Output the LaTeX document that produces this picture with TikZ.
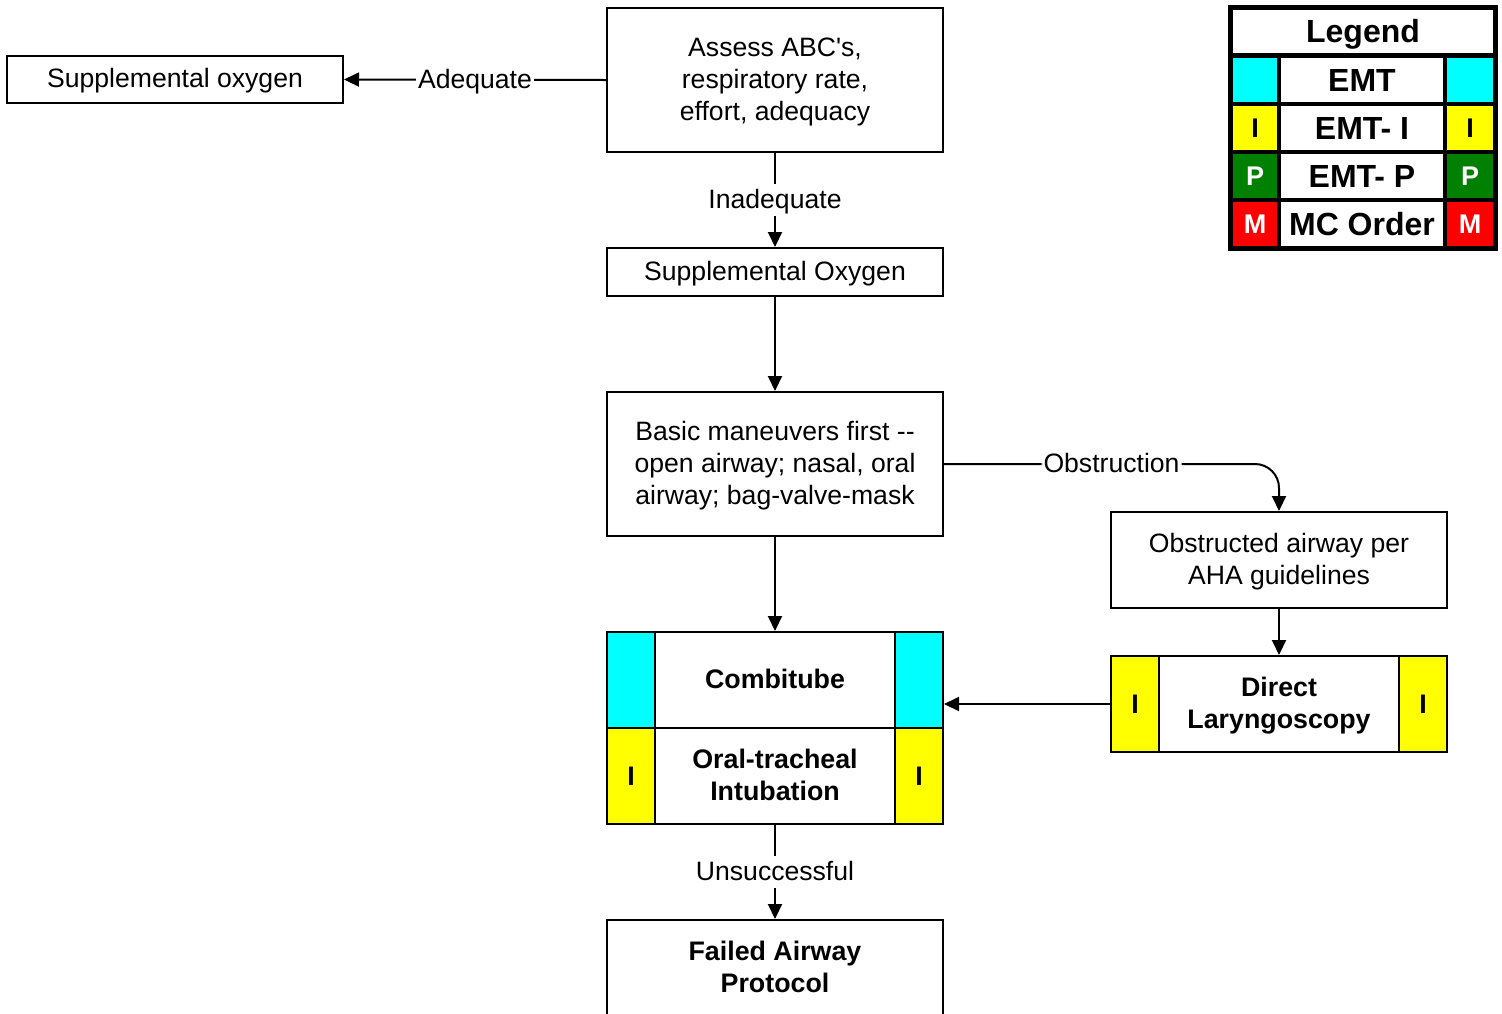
\documentclass[tikz,border=0pt]{standalone}
\usepackage{fontspec}
\setmainfont{Liberation Sans}
\newfontfamily\rawf{Liberation Sans}
\usetikzlibrary{arrows.meta}
\definecolor{cyanc}{RGB}{0,255,255}
\definecolor{yelc}{RGB}{255,255,0}
\definecolor{grnc}{RGB}{0,128,0}
\definecolor{redc}{RGB}{255,0,0}
\newcommand\myreg{\rawf\fontsize{26.6}{32}\selectfont}
\newcommand\mybold{\rawf\fontsize{26.8}{32}\selectfont\bfseries}
\newcommand\myleg{\rawf\fontsize{32}{38}\selectfont\bfseries}
\newcommand\myletter{\rawf\fontsize{27}{32}\selectfont\bfseries}
\newcommand\topst{\rule{0pt}{22.7pt}}
\newcommand\botst{\rule[-6pt]{0pt}{6pt}}
\begin{document}
\begin{tikzpicture}[x=1pt,y=-1pt,
  strutted/.style={execute at begin node=\topst, execute at end node=\botst},
  box/.style={draw, line width=2pt, inner sep=0pt, align=center, font=\myreg, minimum width=336pt},
  bbox/.style={box, font=\mybold},
  midcell/.style={draw, line width=2pt, inner sep=0pt, align=center, font=\mybold, minimum width=240pt, minimum height=96pt},
  sidecell/.style={draw, line width=2pt, inner sep=0pt, align=center, font=\mybold, minimum width=48pt, minimum height=96pt},
  arr/.style={line width=2pt, -{Triangle[length=15pt,width=14pt]}},
  lbl/.style={fill=white, font=\myreg, inner sep=2pt, strutted},
  legcell/.style={inner sep=0pt, minimum height=44pt, align=center},
  legmid/.style={legcell, fill=white, minimum width=162pt, font=\myleg},
  legside/.style={legcell, minimum width=44pt, font=\myletter}
]
\clip (0,0) rectangle (1502,1013);
\fill[white] (0,0) rectangle (1502,1013);

% flowchart boxes
\node[box, strutted, minimum height=47pt] (supL) at (175,79.5) {Supplemental oxygen};
\node[box, minimum height=144pt] (assess) at (775,80) {\topst Assess ABC's,\\respiratory rate,\\effort, adequacy\botst};
\node[box, strutted, minimum height=48pt] (supO) at (775,272) {Supplemental Oxygen};
\node[box, minimum height=144pt] (basic) at (775,464) {\topst Basic maneuvers first -\kern0pt-\\open airway; nasal, oral\\airway; bag-valve-mask\botst};
\node[box, minimum height=96pt] (obs) at (1279,560) {\topst Obstructed airway per\\AHA guidelines\botst};

% direct laryngoscopy
\node[midcell] (dl) at (1279,704) {\topst Direct\\Laryngoscopy\botst};
\node[sidecell, fill=yelc] (dlL) at (1135,704) {I};
\node[sidecell, fill=yelc] (dlR) at (1423,704) {I};

% combitube / intubation
\node[midcell, strutted] (comb) at (775,680) {Combitube};
\node[sidecell, fill=cyanc] (combL) at (631,680) {};
\node[sidecell, fill=cyanc] (combR) at (919,680) {};
\node[midcell] (intub) at (775,776) {\topst Oral-tracheal\\Intubation\botst};
\node[sidecell, fill=yelc] (intubL) at (631,776) {I};
\node[sidecell, fill=yelc] (intubR) at (919,776) {I};

\node[bbox, minimum height=96pt] (failed) at (775,968) {\topst Failed Airway\\Protocol\botst};

% connectors
\draw[arr] (assess.west) -- node[lbl]{Adequate} (supL.east);
\draw[arr] (assess.south) -- node[lbl]{Inadequate} (supO.north);
\draw[arr] (supO.south) -- (basic.north);
\draw[arr, rounded corners=24pt] (basic.east) -- node[lbl, pos=0.5]{Obstruction} (basic.east -| obs.north) -- (obs.north);
\draw[arr] (obs.south) -- (dl.north);
\draw[arr] (dlL.west) -- (dlL.west -| combR.east);
\draw[arr] (basic.south) -- (comb.north);
\draw[arr] (intub.south) -- node[lbl]{Unsuccessful} (failed.north);

% legend
\node[fill=black, inner sep=0pt, minimum width=270pt, minimum height=246pt] (legbg) at (1363,128) {};
\node[legcell, fill=white, minimum width=260pt, minimum height=43pt, font=\myleg, text height=23pt, text depth=0pt] (legtitle) at (1363,31) {Legend};

\node[legmid] (l1) at (1362,80) {EMT};
\node[legside, fill=cyanc] (l1a) at (1255,80) {};
\node[legside, fill=cyanc, minimum width=46pt] (l1b) at (1470,80) {};

\node[legmid] (l2) at (1362,128) {EMT- I};
\node[legside, fill=yelc] (l2a) at (1255,128) {I};
\node[legside, fill=yelc, minimum width=46pt] (l2b) at (1470,128) {I};

\node[legmid] (l3) at (1362,176) {EMT- P};
\node[legside, fill=grnc, text=white] (l3a) at (1255,176) {P};
\node[legside, fill=grnc, text=white, minimum width=46pt] (l3b) at (1470,176) {P};

\node[legmid] (l4) at (1362,224) {MC Order};
\node[legside, fill=redc, text=white] (l4a) at (1255,224) {M};
\node[legside, fill=redc, text=white, minimum width=46pt] (l4b) at (1470,224) {M};
\end{tikzpicture}
\end{document}
